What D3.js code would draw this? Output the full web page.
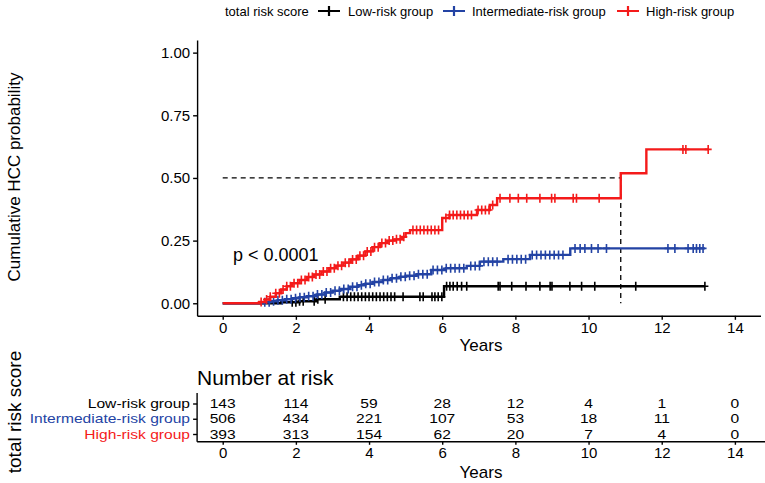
<!DOCTYPE html>
<html lang="en">
<head>
<meta charset="UTF-8">
<title>Cumulative HCC probability</title>
<script src="https://cdn.jsdelivr.net/npm/d3@7"></script>
<style>
    html,body{ margin:0; padding:0; background:#fff; }
    svg{ display:block; font-family:"Liberation Sans", Arial, sans-serif; }
    .axis path, .axis line{ stroke:#000; stroke-width:1.4; }
    .axis text{ fill:#000; font-size:15px; font-family:"Liberation Sans", Arial, sans-serif; }
</style>
</head>
<body>
<script>
// groups
const groups = ["Low-risk group", "Intermediate-risk group", "High-risk group"];
const groupColors = ["#000000", "#2343A4", "#F41A1A"];

// step curves: event times (years) and cumulative probability after each step
const lowTimes  = [0, 1.6, 2.1, 2.57, 3.2, 6.05];
const lowVals   = [0, 0.004, 0.008, 0.016, 0.026, 0.068];
const lowEnd    = 13.18;

const midTimes  = [0, 1.1, 1.3, 1.5, 1.7, 1.9, 2.1, 2.3, 2.57, 2.8, 3.0, 3.2, 3.48, 3.7, 3.9, 4.1, 4.38, 4.6, 4.84, 5.0, 5.3, 5.7, 6.1, 6.67, 7.03, 7.67, 8.4, 9.5];
const midVals   = [0, 0.004, 0.008, 0.012, 0.016, 0.02, 0.024, 0.028, 0.035, 0.043, 0.05, 0.057, 0.066, 0.072, 0.078, 0.085, 0.093, 0.1, 0.106, 0.11, 0.116, 0.133, 0.14, 0.149, 0.166, 0.176, 0.193, 0.219];
const midEnd    = 13.18;

const highTimes = [0, 1.0, 1.15, 1.3, 1.45, 1.6, 1.75, 1.9, 2.1, 2.3, 2.5, 2.7, 2.9, 3.1, 3.3, 3.5, 3.7, 3.9, 4.1, 4.3, 4.5, 4.7, 4.9, 5.0, 5.12, 6.0, 6.2, 6.95, 7.3, 7.5, 10.88, 11.58];
const highVals  = [0, 0.005, 0.015, 0.026, 0.04, 0.055, 0.068, 0.08, 0.093, 0.105, 0.115, 0.127, 0.14, 0.15, 0.162, 0.175, 0.19, 0.207, 0.224, 0.24, 0.25, 0.255, 0.265, 0.28, 0.292, 0.34, 0.352, 0.372, 0.392, 0.419, 0.519, 0.614];
const highEnd   = 13.27;

// censoring times
const lowCens  = [1.9, 2.0, 2.1, 2.2, 2.5, 2.6, 2.8, 3.3, 3.4, 3.5, 3.6, 3.7, 3.8, 3.9, 4.0, 4.1, 4.2, 4.3, 4.4, 4.5, 4.6, 4.7, 4.93, 5.39, 5.48, 5.72, 5.8, 5.89, 5.99, 6.12, 6.21, 6.3, 6.41, 6.53, 6.67, 7.53, 7.58, 7.9, 8.29, 8.67, 8.95, 9.0, 9.49, 9.81, 10.17, 11.29, 13.18];
const midCens  = [1.15, 1.27, 1.39, 1.51, 1.63, 1.75, 1.87, 1.99, 2.11, 2.23, 2.35, 2.47, 2.59, 2.71, 2.83, 2.95, 3.07, 3.19, 3.31, 3.43, 3.55, 3.67, 3.79, 3.91, 4.03, 4.15, 4.27, 4.39, 4.51, 4.63, 4.75, 4.87, 4.99, 5.11, 5.23, 5.35, 5.47, 5.59, 5.75, 5.87, 5.99, 6.11, 6.23, 6.35, 6.47, 6.59, 6.78, 6.9, 7.02, 7.14, 7.26, 7.38, 7.5, 7.8, 7.92, 8.04, 8.16, 8.28, 8.46, 8.58, 8.7, 8.82, 8.94, 9.06, 9.18, 9.3, 9.63, 9.77, 9.9, 10.08, 10.26, 10.49, 12.17, 12.36, 12.72, 12.86, 12.95, 13.04, 13.13];
const highCens = [1.05, 1.2, 1.3, 1.45, 1.55, 1.65, 1.75, 1.85, 1.95, 2.05, 2.15, 2.25, 2.35, 2.45, 2.55, 2.65, 2.75, 2.85, 2.95, 3.05, 3.15, 3.25, 3.35, 3.45, 3.55, 3.65, 3.75, 3.85, 3.95, 4.05, 4.15, 4.25, 4.35, 4.45, 4.55, 4.65, 4.75, 4.85, 4.95, 5.2, 5.3, 5.4, 5.5, 5.6, 5.7, 5.8, 5.9, 6.1, 6.2, 6.3, 6.4, 6.5, 6.6, 6.7, 6.8, 6.98, 7.08, 7.18, 7.28, 7.38, 7.58, 7.85, 8.08, 8.31, 8.67, 8.99, 9.08, 9.58, 9.67, 10.29, 12.58, 12.66, 13.27];

// ticks and risk table
const xTicks = [0, 2, 4, 6, 8, 10, 12, 14];
const yTicks = [0, 0.25, 0.5, 0.75, 1];
const lowRisk  = [143, 114, 59, 28, 12, 4, 1, 0];
const midRisk  = [506, 434, 221, 107, 53, 18, 11, 0];
const highRisk = [393, 313, 154, 62, 20, 7, 4, 0];

const medianTime = 10.88;
const pText = "p < 0.0001";

const W = 765, H = 483;

let svg = d3.select("body").append("svg")
            .attr("width", W).attr("height", H);

// the source figure's type is a bit wide for its height, so stretch it a little
function label(sel, px, py, str, size, anchor, color, sx){
    return sel.append("text")
        .attr("transform", `translate(${px},${py}) scale(${sx||1},1)`)
        .attr("text-anchor", anchor || "start")
        .attr("dominant-baseline","central")
        .style("font-size", size + "px")
        .style("fill", color || "#000")
        .text(str);
}

// scales (ggplot style 5% expansion for the axes)
let x = d3.scaleLinear().domain([-0.7, 14.7]).range([197.1, 760.5]);
let y = d3.scaleLinear().domain([-0.05, 1.05]).range([315.8, 40.1]);

// y axis
svg.append("g").attr("class","axis")
    .attr("transform","translate(197.1,0)")
    .call(d3.axisLeft(y).tickValues(yTicks).tickFormat(d3.format(".2f")).tickSize(4).tickSizeOuter(0).tickPadding(3));
// x axis
svg.append("g").attr("class","axis")
    .attr("transform","translate(0,315.8)")
    .call(d3.axisBottom(x).tickValues(xTicks).tickSize(4).tickSizeOuter(0).tickPadding(3));

svg.append("text").attr("transform","translate(14,177) rotate(-90)")
    .attr("text-anchor","middle").attr("dominant-baseline","central")
    .style("font-size","17px").text("Cumulative HCC probability");
label(svg, 481, 345, "Years", 17, "middle");

// median dashed lines
svg.append("path")
    .attr("d", `M${x(0)},${y(0.5)}H${x(medianTime)}V${y(0)}`)
    .attr("fill","none").attr("stroke","#000").attr("stroke-width",1.3)
    .attr("stroke-dasharray","5,4");

function stepAt(times, vals, t){
    let v = 0;
    for(let i=0;i<times.length;i++){ if(times[i] <= t) v = vals[i]; }
    return v;
}

let line = d3.line().curve(d3.curveStepAfter).x(d=>x(d.t)).y(d=>y(d.v));

const curves = [
    {times: lowTimes,  vals: lowVals,  end: lowEnd,  cens: lowCens,  color: groupColors[0]},
    {times: midTimes,  vals: midVals,  end: midEnd,  cens: midCens,  color: groupColors[1]},
    {times: highTimes, vals: highVals, end: highEnd, cens: highCens, color: groupColors[2]}
];

curves.forEach(c => {
    let pts = c.times.map((t,i)=>({t:t, v:c.vals[i]}));
    pts.push({t:c.end, v:c.vals[c.vals.length-1]});
    let g = svg.append("g");
    g.append("path").datum(pts).attr("d", line)
        .attr("fill","none").attr("stroke", c.color).attr("stroke-width", 2.4);
    g.selectAll("path.cens").data(c.cens).enter().append("path")
        .attr("class","cens")
        .attr("d", t => {
            let px = x(t), py = y(stepAt(c.times, c.vals, t));
            return `M${px-3.5},${py}H${px+3.5}M${px},${py-4.5}V${py+4.5}`;
        })
        .attr("stroke", c.color).attr("stroke-width", 1.6);
});

label(svg, 233, 255, pText, 18);

// legend
let legend = svg.append("g");
label(legend, 225, 11, "total risk score", 13);
const legendKeys = [329, 454, 628];
const legendText = [348, 472, 646];
groups.forEach((gname,i)=>{
    legend.append("path")
        .attr("d", `M${legendKeys[i]-11},11H${legendKeys[i]+11}M${legendKeys[i]},6V16`)
        .attr("stroke", groupColors[i]).attr("stroke-width", 2.2);
    label(legend, legendText[i], 11, gname, 13);
});

// risk table
let tx = d3.scaleLinear().domain([-0.7, 14.7]).range([197.1, 760.5]);
let ty = d3.scalePoint().domain(groups).range([403.5, 434]);

label(svg, 197, 378, "Number at risk", 20, "start", "#000", 1.05);

let tyAxis = svg.append("g").attr("class","axis")
    .attr("transform","translate(197.1,0)")
    .call(d3.axisLeft(ty).tickSize(4).tickSizeOuter(0).tickFormat(""));
tyAxis.select(".domain").attr("d","M0,393V441.8");
groups.forEach((gname,i)=>{
    label(svg, 190, ty(gname), gname, 13, "end", groupColors[i], 1.2);
});

let txAxis = svg.append("g").attr("class","axis")
    .attr("transform","translate(0,441.8)")
    .call(d3.axisBottom(tx).tickValues(xTicks).tickSize(3).tickSizeOuter(0).tickPadding(3));
txAxis.select(".domain").attr("d","M197.1,0H765");

const riskRows = [lowRisk, midRisk, highRisk];
riskRows.forEach((row,i)=>{
    let g = svg.append("g");
    row.forEach((d,j)=>{
        label(g, tx(xTicks[j]), ty(groups[i]), d, 13, "middle", "#000", 1.2);
    });
});

label(svg, 481, 472, "Years", 17, "middle");
svg.append("text").attr("transform","translate(14,412) rotate(-90)")
    .attr("text-anchor","middle").attr("dominant-baseline","central")
    .style("font-size","19px").text("total risk score");
</script>
</body>
</html>
